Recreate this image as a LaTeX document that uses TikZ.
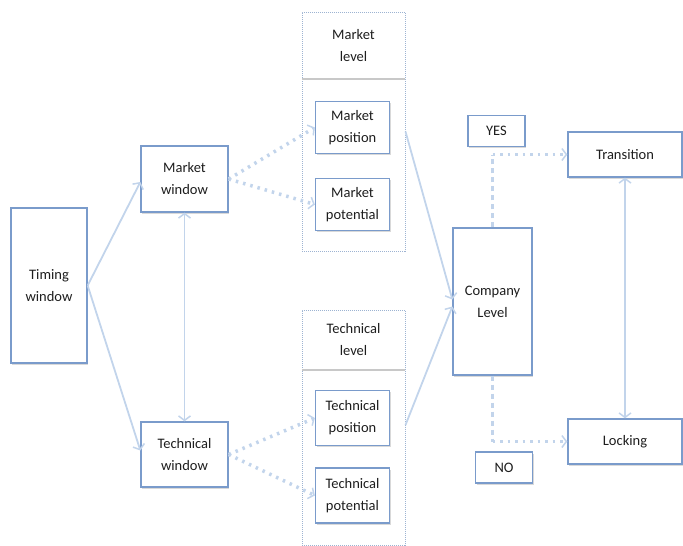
\documentclass[tikz,border=0pt]{standalone}
\usepackage{fontspec}
\setmainfont{Carlito}
\usepackage{tikz}
\usetikzlibrary{arrows.meta,positioning,shadows}
\definecolor{frameblue}{HTML}{7A9BCB}
\definecolor{flowblue}{HTML}{C2D4EB}
\definecolor{levelgray}{HTML}{9DB3D2}
\definecolor{rulegray}{HTML}{C8C8C8}
\definecolor{textgray}{HTML}{1E1E1E}
\tikzset{
  stagebox/.style={
    draw=frameblue, fill=white, line width=1.3pt, inner sep=0pt,
    align=center, text=textgray, font=\fontsize{14.5}{22}\selectfont,
    drop shadow={opacity=0.3, shadow xshift=1pt, shadow yshift=-1.5pt}
  },
  levelframe/.style={
    draw=levelgray, densely dotted, line width=1pt, inner sep=0pt
  },
  levelhead/.style={
    inner sep=0pt, align=center, text=textgray,
    font=\fontsize{14.5}{22}\selectfont
  },
  barb/.tip={Straight Barb[length=4.5pt,width=12pt,line width=1.5pt]},
  flow/.style={draw=flowblue, line width=1.8pt, -barb},
  flowboth/.style={draw=flowblue, line width=1.8pt, barb-barb},
  dotflow/.style={draw=flowblue, line width=3.5pt, dash pattern=on 2.5pt off 5pt, -barb},
  dashlink/.style={draw=flowblue, line width=2.2pt, dash pattern=on 5pt off 4pt}
}

\begin{document}
\begin{tikzpicture}[x=1pt,y=-1pt]
  \useasboundingbox (0,0) rectangle (683,546);

  % left column
  \node[stagebox,minimum width=76pt,minimum height=155pt] (timing) at (49,285.5) {Timing\\window};
  \node[stagebox,minimum width=87pt,minimum height=66pt] (mwin) at (184.5,179) {Market\\window};
  \node[stagebox,minimum width=87pt,minimum height=65pt] (twin) at (184.5,454.5) {Technical\\window};

  % market level group
  \node[levelframe,minimum width=103pt,minimum height=239pt] (mlevel) at (353.5,131.5) {};
  \node[levelhead,minimum width=103pt,minimum height=67pt,anchor=north] (mhead) at (mlevel.north) {Market\\level};
  \draw[rulegray,line width=1.2pt] (mhead.south west) -- (mhead.south east);
  \node[stagebox,minimum width=74pt,minimum height=52pt] (mpos) at (352.5,127.5) {Market\\position};
  \node[stagebox,minimum width=74pt,minimum height=52pt] (mpot) at (352.5,204.5) {Market\\potential};

  % technical level group
  \node[levelframe,minimum width=103pt,minimum height=235pt] (tlevel) at (353.5,427.5) {};
  \node[levelhead,minimum width=103pt,minimum height=60pt,anchor=north] (thead) at (tlevel.north) {Technical\\level};
  \draw[rulegray,line width=1.2pt] (thead.south west) -- (thead.south east);
  \node[stagebox,minimum width=74pt,minimum height=55pt] (tpos) at (352.5,418) {Technical\\position};
  \node[stagebox,minimum width=74pt,minimum height=55pt] (tpot) at (352.5,495.5) {Technical\\potential};

  % right side
  \node[stagebox,minimum width=79pt,minimum height=147pt] (company) at (492.5,301.5) {Company\\Level};
  \node[stagebox,minimum width=57pt,minimum height=31pt] (yes) at (496.5,131) {YES};
  \node[stagebox,minimum width=57pt,minimum height=31pt] (no) at (504,467.5) {NO};
  \node[stagebox,minimum width=114pt,minimum height=45pt] (trans) at (625,154.5) {Transition};
  \node[stagebox,minimum width=114pt,minimum height=45pt] (lock) at (625,441.5) {Locking};

  \coordinate (yescorner) at (company.north |- trans.west);
  \coordinate (nocorner) at (company.south |- lock.west);

  % connectors
  \draw[flow] (timing.east) -- ([yshift=-3pt]mwin.west);
  \draw[flow] (timing.east) -- ([yshift=4pt]twin.west);
  \draw[flowboth] (mwin.south) -- (twin.north);

  \draw[dotflow] (mwin.east) -- (mpos.west);
  \draw[dotflow] (mwin.east) -- (mpot.west);
  \draw[dotflow] (twin.east) -- (tpos.west);
  \draw[dotflow] (twin.east) -- (tpot.west);

  \draw[flow] ([yshift=-4pt]mpos.east -| mlevel.east) -- ([yshift=2pt]company.west);
  \draw[flow] ([yshift=-7pt]tpos.east -| tlevel.east) -- ([yshift=-5pt]company.west);

  \draw[dashlink] (company.north) -- (yescorner);
  \draw[dotflow] (yescorner) -- (trans.west);
  \draw[dashlink] (company.south) -- (nocorner);
  \draw[dotflow] (nocorner) -- (lock.west);

  \draw[flowboth] (trans.south) -- (lock.north);
\end{tikzpicture}
\end{document}
